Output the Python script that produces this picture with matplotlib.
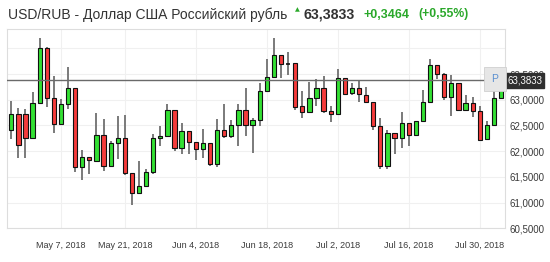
import numpy as np
import pandas as pd
import matplotlib
matplotlib.use("Agg")
import matplotlib.pyplot as plt

# trading days (May 9 has no candle)
dates = pd.bdate_range("2018-04-26", "2018-08-02").drop(pd.Timestamp("2018-05-09"))
tick_dates = pd.to_datetime(["2018-05-07", "2018-05-21", "2018-06-04", "2018-06-18",
                             "2018-07-02", "2018-07-16", "2018-07-30"])

opens = [62.42, 62.72, 62.72, 62.25, 62.94, 64.01, 63.03, 62.52, 62.92, 63.22, 61.70, 61.89,
         61.81, 62.31, 61.71, 62.15, 62.26, 61.58, 61.19, 61.32, 61.60, 62.26, 62.29, 62.80,
         62.07, 62.40, 62.18, 62.05, 62.15, 61.76, 62.41, 62.29, 62.51, 62.81, 62.50, 62.60,
         63.18, 63.45, 63.88, 63.70, 63.71, 62.88, 62.76, 63.03, 63.22, 62.79, 62.72, 63.43,
         63.14, 63.23, 63.10, 62.96, 62.49, 61.71, 62.35, 62.26, 62.54, 62.31, 62.58, 62.96,
         63.67, 63.51, 63.06, 63.32, 62.80, 62.94, 62.79, 62.24, 62.50, 63.03]
highs = [62.98, 62.85, 62.83, 63.15, 64.21, 64.03, 63.47, 63.01, 63.64, 63.23, 62.02, 61.89,
         62.74, 62.62, 62.20, 62.68, 62.70, 61.58, 61.81, 61.65, 62.34, 62.49, 62.91, 62.80,
         62.54, 62.40, 62.18, 62.44, 62.15, 62.63, 62.91, 62.60, 62.91, 63.22, 62.64, 63.32,
         63.79, 64.21, 63.88, 63.92, 63.71, 63.18, 63.35, 63.40, 63.46, 62.88, 63.59, 63.43,
         63.33, 63.36, 63.25, 62.96, 62.65, 62.42, 62.35, 62.76, 62.54, 62.58, 63.20, 63.80,
         63.67, 63.53, 63.49, 63.32, 63.09, 63.06, 62.88, 62.59, 63.23, 63.38]
lows = [62.23, 61.87, 61.87, 62.25, 62.94, 62.86, 62.36, 62.52, 62.83, 61.59, 61.44, 61.55,
        61.79, 61.61, 61.71, 61.84, 61.53, 60.95, 61.19, 61.30, 61.56, 62.11, 62.29, 62.00,
        61.95, 61.95, 61.83, 61.87, 61.71, 61.70, 62.25, 62.25, 62.10, 62.29, 61.96, 62.49,
        63.18, 63.45, 63.43, 63.49, 62.81, 62.65, 62.74, 62.88, 62.74, 62.57, 62.72, 63.12,
        63.09, 62.96, 62.93, 62.42, 61.66, 61.65, 61.95, 62.07, 62.10, 62.31, 62.58, 62.96,
        63.40, 62.99, 62.68, 62.80, 62.80, 62.67, 62.20, 62.24, 62.50, 63.03]
closes = [62.72, 62.13, 62.26, 62.94, 64.01, 63.03, 62.53, 62.92, 63.22, 61.70, 61.89, 61.83,
          62.31, 61.71, 62.15, 62.26, 61.58, 61.19, 61.32, 61.60, 62.26, 62.29, 62.80, 62.07,
          62.40, 62.18, 62.05, 62.15, 61.76, 62.41, 62.29, 62.51, 62.81, 62.50, 62.60, 63.18,
          63.45, 63.88, 63.69, 63.70, 62.86, 62.77, 63.03, 63.22, 62.79, 62.72, 63.43, 63.12,
          63.23, 63.12, 62.96, 62.49, 61.71, 62.35, 62.26, 62.54, 62.31, 62.58, 62.96, 63.67,
          63.51, 63.06, 63.32, 62.80, 62.94, 62.79, 62.22, 62.50, 63.03, 63.3833]

last_price = 63.3833
change = 0.3464
change_pct = 0.55
y_ticks = [60.5, 61.0, 61.5, 62.0, 62.5, 63.0, 63.5]
y_grid_top = 64.0  # grid line with no label above it

GREEN = "#33e033"
RED = "#f53b3b"
TXT = "#3a3a3a"


def ru(v, nd):
    return f"{v:.{nd}f}".replace(".", ",")


fig = plt.figure(figsize=(5.5, 2.62), dpi=100)
W, H = 550.0, 262.0
ax = fig.add_axes([7.3 / W, 1 - 228.3 / H, (505 - 7.3) / W, (228.3 - 28.7) / H])

o = np.array(opens)
h = np.array(highs)
l = np.array(lows)
c = np.array(closes)
x = np.arange(len(o))

ax.vlines(x, l, h, color="#7a7a7a", lw=1.4, zorder=2)
up = c >= o
body_bot = np.minimum(o, c)
body_h = np.abs(c - o)
cols = np.where(up, GREEN, RED)
doji = body_h < 0.005
ax.bar(x[~doji], body_h[~doji], bottom=body_bot[~doji], width=0.6,
       color=cols[~doji], edgecolor="#111111", linewidth=0.8, zorder=3)
for xi in x[doji]:
    ax.hlines(o[xi], xi - 0.3, xi + 0.3, color="#111111", lw=1.2, zorder=3)

ax.axhline(last_price, color="#6a6a6a", lw=1.0, zorder=4)
ax.axhline(y_grid_top, color="#f0f0f0", lw=0.8, zorder=0)

tick_idx = [dates.get_loc(d) for d in tick_dates]
ax.set_xticks(tick_idx)
ax.set_xticklabels([f"{d:%b} {d.day}, {d.year}" for d in tick_dates],
                   fontsize=6.5, color=TXT, family="Liberation Sans")
ax.set_yticks(y_ticks)
ax.set_yticklabels([ru(v, 4) for v in y_ticks], fontsize=7, color=TXT,
                   family="Liberation Sans")
ax.yaxis.tick_right()
ax.tick_params(axis="both", length=0)
ax.tick_params(axis="x", pad=9)
ax.tick_params(axis="y", pad=3)

ax.set_xlim(-0.56, 69.56)
ax.set_ylim(60.5, 64.383)
ax.grid(True, color="#f0f0f0", lw=0.8, zorder=0)
ax.set_axisbelow(True)
for s in ax.spines.values():
    s.set_color("#dddddd")
    s.set_linewidth(0.8)

# header
fig.text(8 / W, 1 - 14.5 / H, "USD/RUB - Доллар США Российский рубль",
         fontsize=10, color="#333333", family="Liberation Sans", va="center")
fig.text(297 / W, 1 - 9.5 / H, "\u25b2", fontsize=4.5, color="#2aa82a",
         ha="center", va="center")
fig.text(304 / W, 1 - 14.5 / H, ru(last_price, 4), fontsize=10.2, weight="bold",
         color="#333333", family="Liberation Sans", va="center")
fig.text(364 / W, 1 - 14.5 / H, "+" + ru(change, 4), fontsize=9, weight="bold",
         color="#2aa82a", family="Liberation Sans", va="center")
fig.text(418 / W, 1 - 14.5 / H, "(+" + ru(change_pct, 2) + "%)", fontsize=8.8,
         weight="bold", color="#2aa82a", family="Liberation Sans", va="center")

# price tag and P marker
fig.text(507 / W, 1 - 80.5 / H, ru(last_price, 4), fontsize=7, color="white",
         family="Liberation Sans", va="center", ha="left",
         bbox=dict(boxstyle="square,pad=0.25", fc="#2f2f2f", ec="#2f2f2f"))
fig.text(495 / W, 1 - 79 / H, "P", fontsize=7.5, color="#5a8fd0",
         family="Liberation Sans", va="center", ha="center",
         bbox=dict(boxstyle="square,pad=0.7", fc="#e6e6e6", ec="#d0d0d0", lw=0.6))

fig.savefig("out.png", dpi=100)
